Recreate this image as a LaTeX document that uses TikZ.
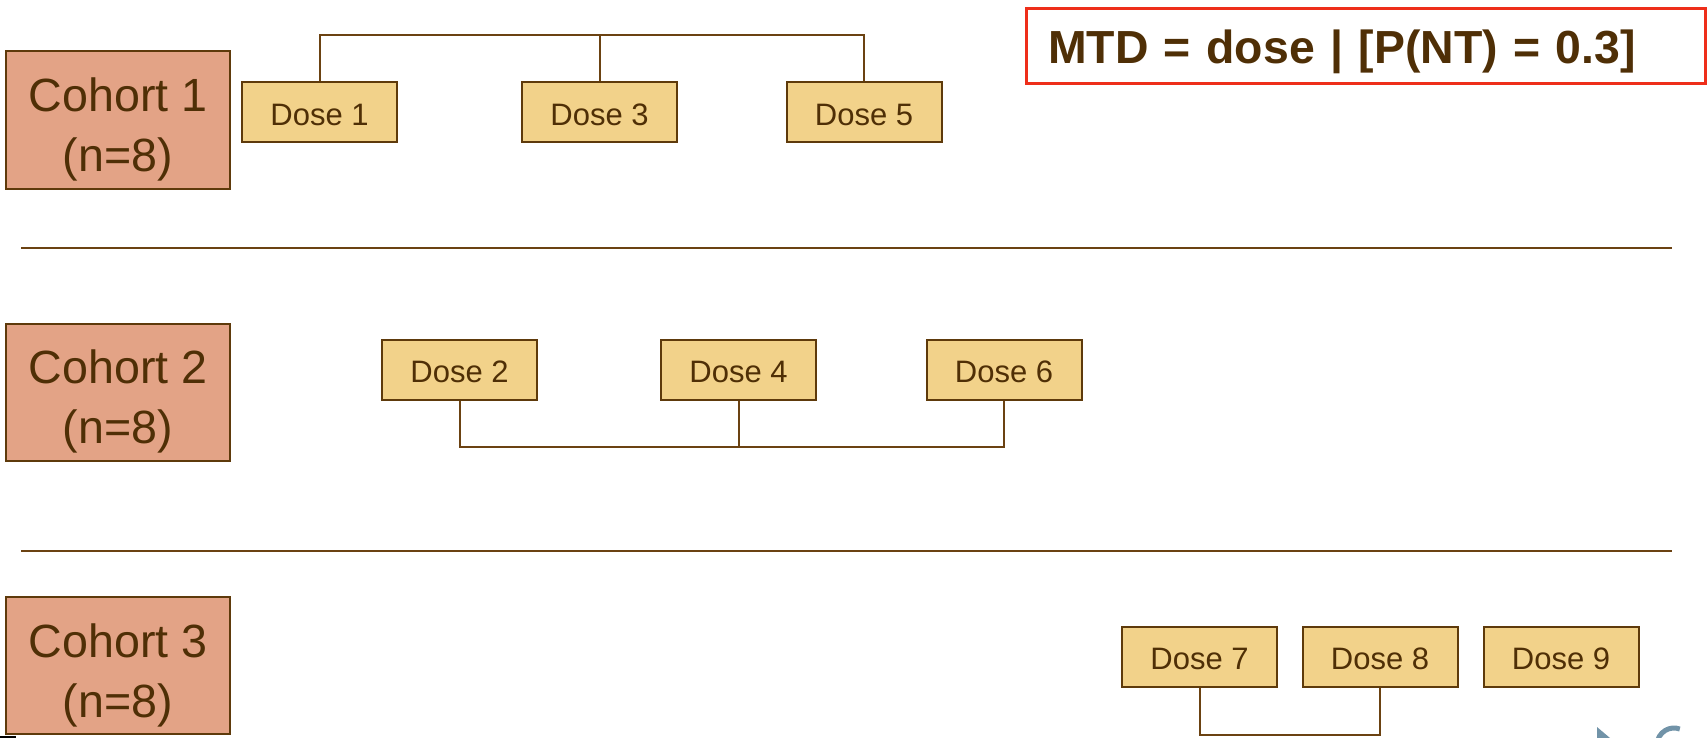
\documentclass[tikz,border=0pt]{standalone}
\usepackage{fontspec}
\setmainfont{Liberation Sans}
\definecolor{cohortfill}{HTML}{E3A386}
\definecolor{dosefill}{HTML}{F2D28A}
\definecolor{ink}{HTML}{4F2F06}
\definecolor{wire}{HTML}{6B4212}
\definecolor{edge}{HTML}{5E3A0B}
\definecolor{alert}{HTML}{EE2E1A}
\definecolor{navgrey}{HTML}{7193A8}
\newcommand{\topstrut}[1]{\rule{0pt}{#1}}
\begin{document}
\begin{tikzpicture}[x=0.5pt, y=-0.5pt,
  cohort/.style={draw=edge, line width=1pt, fill=cohortfill, text=ink,
    minimum width=111.75pt, minimum height=68.5pt, inner sep=0pt, align=center,
    font=\fontsize{23.3}{30}\selectfont},
  dosebox/.style={draw=edge, line width=1pt, fill=dosefill, text=ink,
    minimum width=77.5pt, minimum height=30pt, inner sep=0pt,
    font=\fontsize{15.5}{18}\selectfont},
  link/.style={draw=wire, line width=1pt},
  divider/.style={draw=wire, line width=0.75pt}]
\useasboundingbox (0,0) rectangle (1708,738);
\clip (0,0) rectangle (1708,738);

% cohort labels
\node[cohort] (c1) at (118,120) {\topstrut{26.5pt}Cohort 1\\(n=8)};
\node[cohort] (c2) at (118,392) {\topstrut{26.5pt}Cohort 2\\(n=8)};
\node[cohort] (c3) at (118,665.5) {\topstrut{26.5pt}Cohort 3\\(n=8)};

% doses per cohort
\node[dosebox] (d1) at (319.5,112) {\topstrut{13.5pt}Dose 1};
\node[dosebox] (d3) at (599.5,112) {\topstrut{13.5pt}Dose 3};
\node[dosebox] (d5) at (864,112) {\topstrut{13.5pt}Dose 5};

\node[dosebox] (d2) at (459.5,369.5) {\topstrut{13.5pt}Dose 2};
\node[dosebox] (d4) at (738.5,369.5) {\topstrut{13.5pt}Dose 4};
\node[dosebox] (d6) at (1004,369.5) {\topstrut{13.5pt}Dose 6};

\node[dosebox] (d7) at (1199.5,656.5) {\topstrut{13.5pt}Dose 7};
\node[dosebox] (d8) at (1380,656.5) {\topstrut{13.5pt}Dose 8};
\node[dosebox] (d9) at (1561,656.5) {\topstrut{13.5pt}Dose 9};

% definition box
\node[draw=alert, line width=1.5pt, fill=white, text=ink,
  minimum height=37.5pt, inner xsep=11pt, inner ysep=0pt,
  text width=317.5pt, align=left, font=\bfseries\fontsize{23.2}{28}\selectfont]
  (mtd) at (1365.5,46.5) {\topstrut{22.5pt}MTD = dose | [P(NT) = 0.3]};

% bracket connectors
\coordinate (topbar) at (0,35);
\coordinate (midbar) at (0,446.5);
\coordinate (lowbar) at (0,735);
\draw[link] (d1.north) -- (d1.north |- topbar) -- (d5.north |- topbar) -- (d5.north);
\draw[link] (d3.north) -- (d3.north |- topbar);
\draw[link] (d2.south) -- (d2.south |- midbar) -- (d6.south |- midbar) -- (d6.south);
\draw[link] (d4.south) -- (d4.south |- midbar);
\draw[link] (d7.south) -- (d7.south |- lowbar) -- (d8.south |- lowbar) -- (d8.south);

% cohort separators
\coordinate (s1a) at (21,248);
\coordinate (s1b) at (1672,248);
\coordinate (s2a) at (21,551);
\coordinate (s2b) at (1672,551);
\draw[divider] (s1a) -- (s1b);
\draw[divider] (s2a) -- (s2b);

% slide navigation controls at the lower edge
\fill[navgrey] (1597,727) -- (1610,738) -- (1597,738) -- cycle;
\draw[navgrey, line width=2.5pt] (1657,745) arc[start angle=180, end angle=290, radius=17];
\draw[black, line width=0.6pt] (0,737) -- (16,737);
\end{tikzpicture}
\end{document}
